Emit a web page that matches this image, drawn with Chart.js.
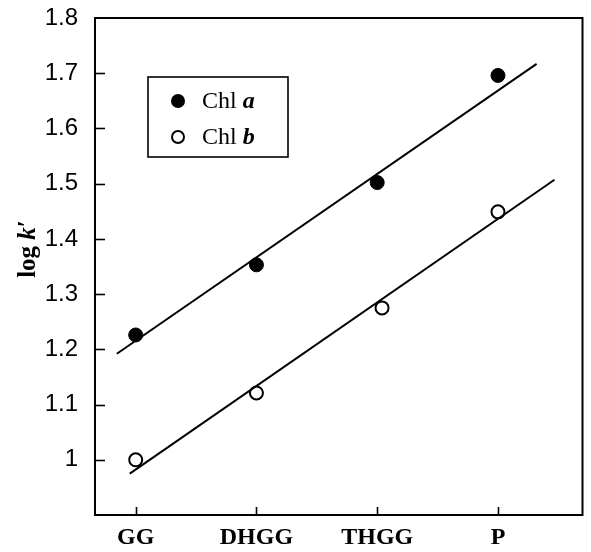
<!DOCTYPE html>
<html>
<head>
<meta charset="utf-8">
<script src="https://cdn.jsdelivr.net/npm/chart.js@4"></script>
<style>
  html, body { margin: 0; padding: 0; background: #fff; overflow: hidden; }
  #wrap { width: 591px; height: 552px; }
  canvas { display: block; }
</style>
</head>
<body>
<div id="wrap"><canvas id="c" width="591" height="552"></canvas></div>
<script>
// ---- data ----
const categories = ['GG', 'DHGG', 'THGG', 'P'];
const categoryPositions = [1, 2, 3, 4];
const chlA_x = [1, 2, 3, 4];
const chlA_y = [1.226, 1.353, 1.502, 1.696];
const chlB_x = [1, 2, 3.04, 4];
const chlB_y = [1.0, 1.121, 1.275, 1.449];
const fitA_x = [0.844, 4.32];
const fitA_y = [1.192, 1.717];
const fitB_x = [0.951, 4.468];
const fitB_y = [0.975, 1.507];
const yTickValues = [1.0, 1.1, 1.2, 1.3, 1.4, 1.5, 1.6, 1.7, 1.8];
const seriesNames = ['Chl a', 'Chl b'];

const pts = (xs, ys) => xs.map((x, i) => ({ x: x, y: ys[i] }));

const frameAndTicks = {
  id: 'frameAndTicks',
  afterDraw(chart) {
    const { ctx, chartArea: a, scales } = chart;
    ctx.save();
    ctx.strokeStyle = '#000';
    ctx.lineWidth = 2;
    ctx.strokeRect(a.left, a.top, a.right - a.left, a.bottom - a.top);
    ctx.lineWidth = 1.6;
    // inner ticks on y axis
    yTickValues.forEach(v => {
      if (v >= 1.75) return;
      const y = Math.round(scales.y.getPixelForValue(v)) + 0.5;
      ctx.beginPath(); ctx.moveTo(a.left, y); ctx.lineTo(a.left + 10, y); ctx.stroke();
    });
    // inner ticks on x axis
    categoryPositions.forEach(v => {
      const x = Math.round(scales.x.getPixelForValue(v)) + 0.5;
      ctx.beginPath(); ctx.moveTo(x, a.bottom); ctx.lineTo(x, a.bottom - 8); ctx.stroke();
    });

    // y title: log k′
    ctx.translate(29, 249);
    ctx.rotate(-Math.PI / 2);
    ctx.fillStyle = '#000';
    ctx.textBaseline = 'middle';
    const parts = [
      ['bold 25px "Liberation Serif"', 'log '],
      ['bold italic 25px "Liberation Serif"', 'k'],
      ['bold 25px "Liberation Serif"', '\u2032']
    ];
    let total = 0;
    parts.forEach(p => { ctx.font = p[0]; total += ctx.measureText(p[1]).width; });
    let x = -total / 2;
    parts.forEach(p => { ctx.font = p[0]; ctx.fillText(p[1], x, 0); x += ctx.measureText(p[1]).width; });
    ctx.restore();

    // legend box
    ctx.save();
    const lx = a.left + 53, ly = a.top + 59, lw = 140, lh = 80;
    ctx.strokeStyle = '#000';
    ctx.lineWidth = 1.6;
    ctx.strokeRect(lx, ly, lw, lh);
    const rows = [
      { name: seriesNames[0], y: ly + 24, filled: true },
      { name: seriesNames[1], y: ly + 60, filled: false }
    ];
    rows.forEach(r => {
      ctx.beginPath();
      ctx.arc(lx + 30, r.y, r.filled ? 7 : 6, 0, Math.PI * 2);
      if (r.filled) { ctx.fillStyle = '#000'; ctx.fill(); }
      else { ctx.lineWidth = 2; ctx.stroke(); }
      ctx.fillStyle = '#000';
      ctx.textBaseline = 'middle';
      const [base, letter] = r.name.split(' ');
      ctx.font = '24px "Liberation Serif"';
      const t1 = base + ' ';
      ctx.fillText(t1, lx + 54, r.y + 1);
      const w1 = ctx.measureText(t1).width;
      ctx.font = 'bold italic 24px "Liberation Serif"';
      ctx.fillText(letter, lx + 54 + w1, r.y + 1);
    });
    ctx.restore();
  }
};

new Chart(document.getElementById('c'), {
  type: 'scatter',
  data: {
    datasets: [
      {
        label: 'fit a', type: 'line', data: pts(fitA_x, fitA_y),
        borderColor: '#000', borderWidth: 2, pointRadius: 0, fill: false
      },
      {
        label: 'fit b', type: 'line', data: pts(fitB_x, fitB_y),
        borderColor: '#000', borderWidth: 2, pointRadius: 0, fill: false
      },
      {
        label: seriesNames[0], data: pts(chlA_x, chlA_y),
        pointRadius: 7, pointBackgroundColor: '#000', pointBorderColor: '#000', pointBorderWidth: 1
      },
      {
        label: seriesNames[1], data: pts(chlB_x, chlB_y),
        pointRadius: 6.5, pointBackgroundColor: '#fff', pointBorderColor: '#000', pointBorderWidth: 2
      }
    ]
  },
  options: {
    responsive: false,
    animation: false,
    events: [],
    layout: { padding: { left: 0, right: 5, top: 18, bottom: 0 } },
    plugins: { legend: { display: false }, tooltip: { enabled: false } },
    scales: {
      x: {
        type: 'linear', min: 0.663, max: 4.7,
        afterBuildTicks: s => { s.ticks = categoryPositions.map(v => ({ value: v })); },
        afterFit: s => { s.height = 37; s.paddingLeft = 0; s.paddingRight = 0; },
        grid: { display: false, drawTicks: false },
        border: { display: false },
        ticks: {
          padding: 8, color: '#000',
          font: { family: '"Liberation Serif"', size: 24, weight: 'bold' },
          callback: (v) => { const i = categoryPositions.indexOf(v); return i >= 0 ? categories[i] : ''; }
        }
      },
      y: {
        type: 'linear', min: 0.9, max: 1.8,
        afterBuildTicks: s => { s.ticks = yTickValues.map(v => ({ value: v })); },
        afterFit: s => { s.width = 95; s.paddingTop = 0; s.paddingBottom = 0; },
        grid: { display: false, drawTicks: false },
        border: { display: false },
        ticks: {
          padding: 17, color: '#000',
          font: { family: '"Liberation Sans"', size: 24 },
          callback: v => String(Math.round(v * 10) / 10)
        }
      }
    }
  },
  plugins: [frameAndTicks]
});
</script>
</body>
</html>
